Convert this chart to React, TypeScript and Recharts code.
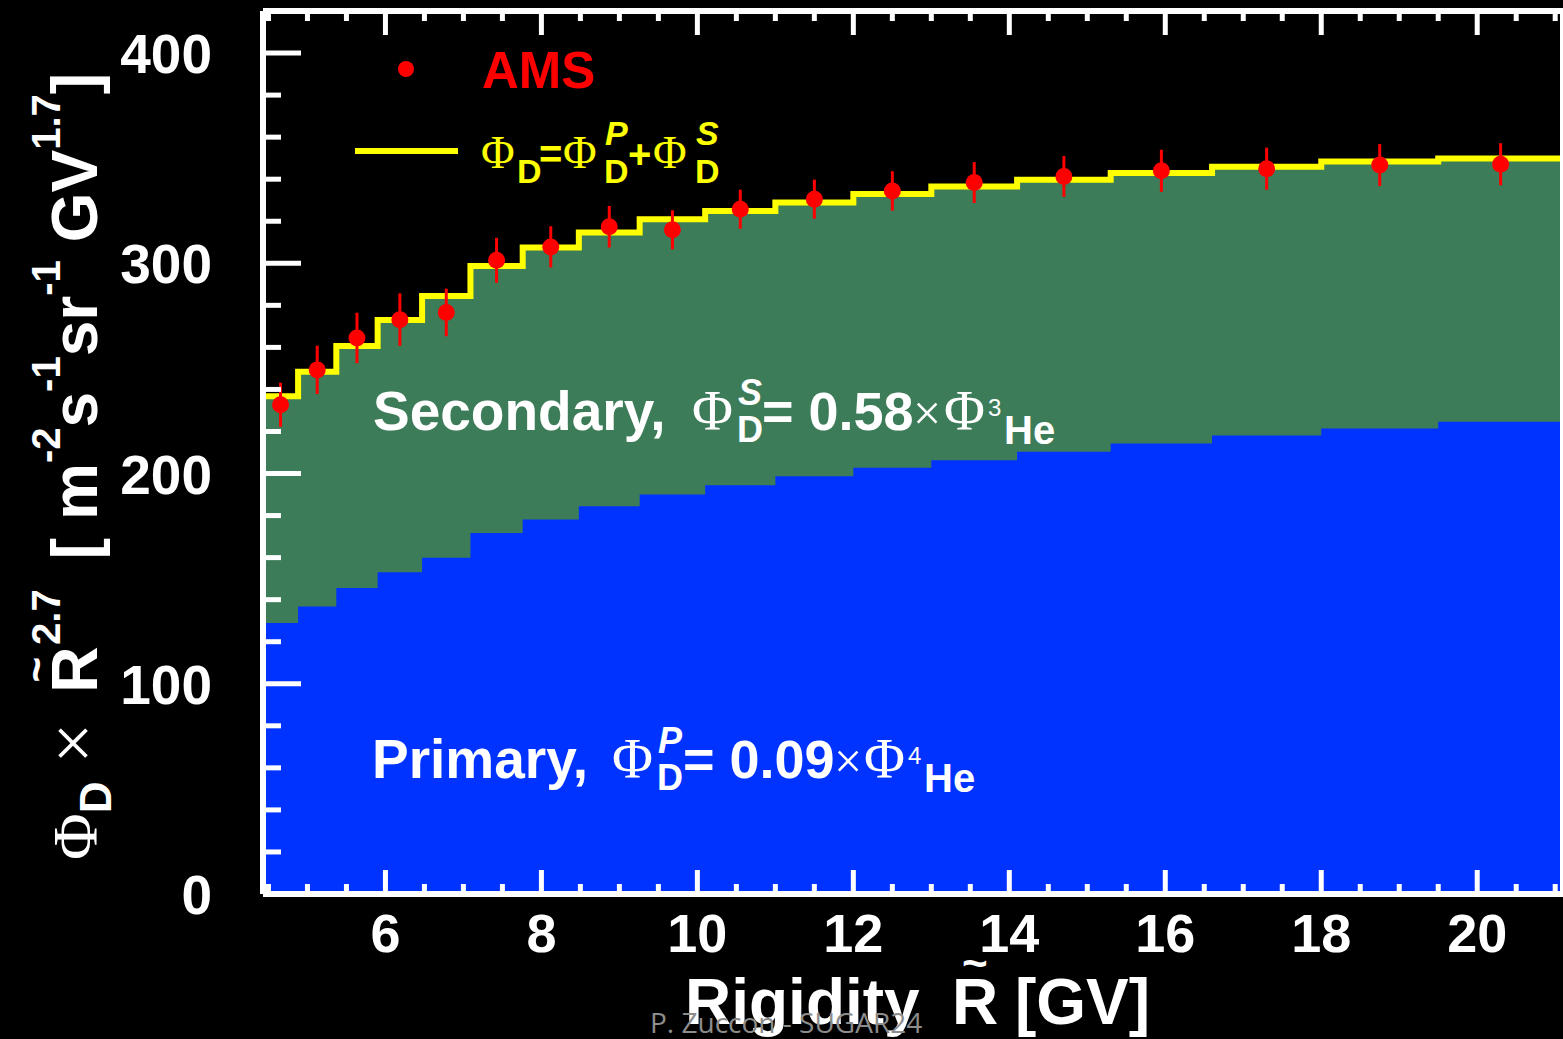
import React from 'react';
import { ComposedChart, Area, Scatter, ErrorBar, XAxis, YAxis } from 'recharts';

// AMS rigidity bin edges [GV]
const binEdges = [4.43, 4.88, 5.37, 5.9, 6.47, 7.09, 7.76, 8.48, 9.26, 10.1, 11.0, 12.0, 13.0, 14.1, 15.3, 16.6, 18.0, 19.5, 21.1];
// Total model flux (primary + secondary) per bin
const totalFlux = [236.7, 248.4, 260.6, 273.0, 284.4, 298.7, 307.5, 314.6, 321.0, 324.9, 328.9, 332.9, 336.5, 339.7, 342.9, 345.9, 348.4, 349.8];
// Primary component per bin
const primaryFlux = [128.9, 136.8, 145.6, 153.0, 159.9, 171.7, 178.1, 184.4, 190.0, 194.4, 198.7, 202.7, 206.3, 210.3, 214.3, 218.1, 221.4, 224.6];
// AMS measured points
const amsFlux = [232.7, 249.3, 264.5, 273.2, 276.6, 301.4, 307.8, 317.4, 315.9, 325.7, 330.5, 334.4, 338.4, 341.3, 344.0, 345.0, 346.7, 347.1];
const amsError = [10.5, 11.5, 12.0, 12.5, 11.3, 10.7, 9.8, 9.9, 9.3, 9.3, 9.3, 9.4, 9.7, 9.7, 10.0, 10.0, 10.0, 10.0];

const xTicks = [4.5, 5, 5.5, 6, 6.5, 7, 7.5, 8, 8.5, 9, 9.5, 10, 10.5, 11, 11.5, 12, 12.5, 13, 13.5, 14, 14.5, 15, 15.5, 16, 16.5, 17, 17.5, 18, 18.5, 19, 19.5, 20, 20.5, 21];
const xMajorLabels = [6, 8, 10, 12, 14, 16, 18, 20];
const yTicks = [0, 20, 40, 60, 80, 100, 120, 140, 160, 180, 200, 220, 240, 260, 280, 300, 320, 340, 360, 380, 400, 420];
const yMajorLabels = [0, 100, 200, 300, 400];

const SANS = '"Liberation Sans", Arial, Helvetica, sans-serif';
const SERIF = '"Liberation Serif", "DejaVu Serif", "Times New Roman", serif';
const GREEN = '#3d7c59';
const BLUE = '#0033ff';
const YELLOW = '#ffff00';
const RED = '#ff0000';

const stepData = [
  { x: binEdges[0], total: 0, primary: 0 },
  ...binEdges.map((edge, i) => {
    const k = Math.min(i, totalFlux.length - 1);
    return { x: edge, total: totalFlux[k], primary: primaryFlux[k] };
  }),
];

const amsData = amsFlux.map((v, i) => ({
  x: (binEdges[i] + binEdges[i + 1]) / 2,
  y: v,
  err: amsError[i],
}));

const isIn = (v: number, list: number[]) => list.some((m) => Math.abs(m - v) < 1e-6);

const BottomTick = (props: any) => {
  const { x, y, payload } = props;
  const major = isIn(payload.value, xMajorLabels);
  return (
    <g>
      <line x1={x} x2={x} y1={y} y2={y - (major ? 24 : 10)} stroke="#fff" strokeWidth={5} />
      {major && (
        <text x={x} y={y + 58} textAnchor="middle" fill="#fff" fontSize={54} fontWeight="bold" fontFamily={SANS}>
          {payload.value}
        </text>
      )}
    </g>
  );
};

const TopTick = (props: any) => {
  const { x, y, payload } = props;
  const major = isIn(payload.value, xMajorLabels);
  return <line x1={x} x2={x} y1={y} y2={y + (major ? 24 : 10)} stroke="#fff" strokeWidth={5} />;
};

const LeftTick = (props: any) => {
  const { x, y, payload } = props;
  const major = isIn(payload.value, yMajorLabels);
  return (
    <g>
      <line x1={x} x2={x + (major ? 38 : 18)} y1={y} y2={y} stroke="#fff" strokeWidth={5} />
      {major && (
        <text x={x - 51} y={y + 20} textAnchor="end" fill="#fff" fontSize={55} fontWeight="bold" fontFamily={SANS}>
          {payload.value}
        </text>
      )}
    </g>
  );
};

const RightTick = (props: any) => {
  const { x, y, payload } = props;
  const major = isIn(payload.value, yMajorLabels);
  return <line x1={x} x2={x - (major ? 36 : 16)} y1={y} y2={y} stroke="#fff" strokeWidth={5} />;
};

const Dot = (p: any) => <circle cx={p.cx} cy={p.cy} r={8.5} fill={RED} />;

export default function App() {
  return (
    <div style={{ position: 'absolute', left: 0, top: 0, width: 1563, height: 1039, overflow: 'hidden', background: '#000' }}>
      <ComposedChart
        width={1580}
        height={1039}
        data={stepData}
        margin={{ top: 10, right: 16, bottom: 144, left: 262 }}
      >
        <XAxis xAxisId="b" dataKey="x" type="number" domain={[4.43, 21.1]} ticks={xTicks} interval={0}
          orientation="bottom" height={1} tickSize={0} tickMargin={0} tickLine={false}
          axisLine={{ stroke: '#fff', strokeWidth: 6 }} tick={<BottomTick />} />
        <XAxis xAxisId="t" dataKey="x" type="number" domain={[4.43, 21.1]} ticks={xTicks} interval={0}
          orientation="top" height={1} tickSize={0} tickMargin={0} tickLine={false}
          axisLine={{ stroke: '#fff', strokeWidth: 6 }} tick={<TopTick />} />
        <YAxis yAxisId="l" type="number" domain={[0, 420]} ticks={yTicks} interval={0}
          orientation="left" width={1} tickSize={0} tickMargin={0} tickLine={false}
          axisLine={{ stroke: '#fff', strokeWidth: 6 }} tick={<LeftTick />} />
        <YAxis yAxisId="r" type="number" domain={[0, 420]} ticks={yTicks} interval={0}
          orientation="right" width={1} tickSize={0} tickMargin={0} tickLine={false}
          axisLine={{ stroke: '#fff', strokeWidth: 6 }} tick={<RightTick />} />
        <Area xAxisId="b" yAxisId="l" type="stepAfter" dataKey="total" fill={GREEN} fillOpacity={1}
          stroke={YELLOW} strokeWidth={6} isAnimationActive={false} dot={false} activeDot={false} />
        <Area xAxisId="b" yAxisId="l" type="stepAfter" dataKey="primary" fill={BLUE} fillOpacity={1}
          stroke="none" isAnimationActive={false} dot={false} activeDot={false} />
        <Scatter xAxisId="b" yAxisId="l" data={amsData} dataKey="y" fill={RED} shape={Dot} isAnimationActive={false}>
          <ErrorBar dataKey="err" direction="y" width={0} stroke={RED} strokeWidth={3} />
        </Scatter>
      </ComposedChart>

      <svg width={1563} height={1039} style={{ position: 'absolute', left: 0, top: 0, pointerEvents: 'none' }}>
        {/* Legend */}
        <circle cx={406} cy={69} r={8} fill={RED} />
        <text x={482} y={88} fill={RED} fontSize={51} fontWeight="bold" fontFamily={SANS}>AMS</text>
        <line x1={355} x2={458} y1={151} y2={151} stroke={YELLOW} strokeWidth={6} />
        <g fill={YELLOW} fontFamily={SANS} fontWeight="bold">
          <text x={481} y={168} fontSize={46} fontFamily={SERIF} fontWeight="normal">Φ</text>
          <text x={517} y={183} fontSize={34}>D</text>
          <text x={539} y={168} fontSize={40}>=</text>
          <text x={563} y={168} fontSize={46} fontFamily={SERIF} fontWeight="normal">Φ</text>
          <text x={605} y={145} fontSize={34} fontStyle="italic">P</text>
          <text x={604} y={183} fontSize={34}>D</text>
          <text x={628} y={168} fontSize={40}>+</text>
          <text x={653} y={168} fontSize={46} fontFamily={SERIF} fontWeight="normal">Φ</text>
          <text x={696} y={145} fontSize={34} fontStyle="italic">S</text>
          <text x={695} y={183} fontSize={34}>D</text>
        </g>

        {/* Secondary annotation */}
        <g fill="#fff" fontFamily={SANS} fontWeight="bold">
          <text x={373} y={430} fontSize={55}>Secondary,</text>
          <text x={692} y={430} fontSize={56} fontFamily={SERIF} fontWeight="normal">Φ</text>
          <text x={738} y={405} fontSize={36} fontStyle="italic">S</text>
          <text x={737} y={442} fontSize={36}>D</text>
          <text x={762} y={430} fontSize={54}>= 0.58</text>
          <text x={913} y={430} fontSize={50} fontFamily={SERIF} fontWeight="normal">×</text>
          <text x={944} y={430} fontSize={56} fontFamily={SERIF} fontWeight="normal">Φ</text>
          <text x={988} y={416} fontSize={24} fontWeight="normal">3</text>
          <text x={1004} y={444} fontSize={40}>He</text>
        </g>

        {/* Primary annotation */}
        <g fill="#fff" fontFamily={SANS} fontWeight="bold">
          <text x={372} y={778} fontSize={55}>Primary,</text>
          <text x={612} y={778} fontSize={56} fontFamily={SERIF} fontWeight="normal">Φ</text>
          <text x={658} y={753} fontSize={36} fontStyle="italic">P</text>
          <text x={657} y={790} fontSize={36}>D</text>
          <text x={683} y={778} fontSize={54}>= 0.09</text>
          <text x={834} y={778} fontSize={50} fontFamily={SERIF} fontWeight="normal">×</text>
          <text x={864} y={778} fontSize={56} fontFamily={SERIF} fontWeight="normal">Φ</text>
          <text x={908} y={764} fontSize={24} fontWeight="normal">4</text>
          <text x={924} y={792} fontSize={40}>He</text>
        </g>

        {/* Y axis title */}
        <text transform="translate(97, 860) rotate(-90)" fill="#fff" fontFamily={SANS} fontWeight="bold" fontSize={64}>
          <tspan fontFamily={SERIF} fontWeight="normal">Φ</tspan>
          <tspan fontSize={44} dy={14}>D</tspan>
          <tspan fontFamily={SERIF} fontWeight="normal" fontSize={72} dx={18} dy={-14}>×</tspan>
          <tspan dx={30}>R</tspan>
          <tspan fontSize={44} dx={-36} dy={-46}>~</tspan>
          <tspan fontSize={40} dx={12} dy={9}>2.7</tspan>
          <tspan dx={30} dy={37}>[</tspan>
          <tspan dx={18}>m</tspan>
          <tspan fontSize={40} dy={-37}>-2</tspan>
          <tspan dy={37}>s</tspan>
          <tspan fontSize={40} dy={-37}>-1</tspan>
          <tspan dy={37}>sr</tspan>
          <tspan fontSize={40} dy={-37}>-1</tspan>
          <tspan dx={18} dy={37}>GV</tspan>
          <tspan fontSize={40} dy={-37}>1.7</tspan>
          <tspan dy={37}>]</tspan>
        </text>

        {/* X axis title */}
        <text x={685} y={1024} fill="#fff" fontFamily={SANS} fontWeight="bold" fontSize={64}>Rigidity</text>
        <text x={952} y={1024} fill="#fff" fontFamily={SANS} fontWeight="bold" fontSize={64}>R</text>
        <text x={962} y={978} fill="#fff" fontFamily={SANS} fontWeight="bold" fontSize={44}>~</text>
        <text x={1015} y={1024} fill="#fff" fontFamily={SANS} fontWeight="bold" fontSize={64}>[GV]</text>

        {/* Watermark */}
        <text x={650} y={1033} fill="#8c8c8c" fontFamily={'"Open Sans", "Liberation Sans", sans-serif'} fontSize={28}>P. Zuccon - SUGAR24</text>
      </svg>
    </div>
  );
}
